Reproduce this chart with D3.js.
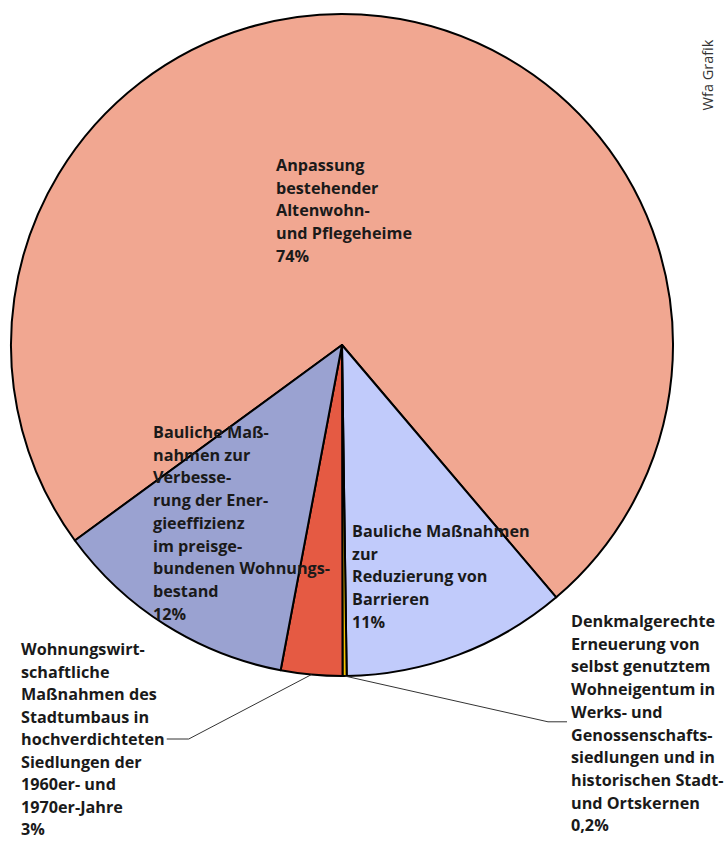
<!DOCTYPE html>
<html>
<head>
<meta charset="utf-8">
<script src="https://cdn.jsdelivr.net/npm/d3@7"></script>
<style>
  body { margin: 0; background: #fff; }
  svg { display: block; }
  .lbl { font-family: "Open Sans", sans-serif; font-weight: 700; font-size: 16.2px; fill: #1a1a1a; }
</style>
</head>
<body>
<svg id="chart" width="728" height="841"></svg>
<script>
// slice order, clockwise
let categories = ["Altenwohn- und Pflegeheime", "Barrieren", "Denkmal", "Stadtumbau", "Energieeffizienz"];
let shares = [74, 11, 0.2, 3, 12];
let colors = ["#f1a791", "#c1cbfb", "#f6c300", "#e55a43", "#9aa2d1"];
let labelLines = [
  ["Anpassung", "bestehender", "Altenwohn-", "und Pflegeheime", "74%"],
  ["Bauliche Maßnahmen", "zur", "Reduzierung von", "Barrieren", "11%"],
  ["Denkmalgerechte", "Erneuerung von", "selbst genutztem", "Wohneigentum in", "Werks- und", "Genossenschafts-", "siedlungen und in", "historischen Stadt-", "und Ortskernen", "0,2%"],
  ["Wohnungswirt-", "schaftliche", "Maßnahmen des", "Stadtumbaus in", "hochverdichteten", "Siedlungen der", "1960er- und", "1970er-Jahre", "3%"],
  ["Bauliche Maß-", "nahmen zur", "Verbesse-", "rung der Ener-", "gieeffizienz", "im preisge-", "bundenen Wohnungs-", "bestand", "12%"]
];

let svg = d3.select("#chart");
let cx = 342, cy = 345, radius = 331;
let lineH = 22.7;

// label anchor (left x, first baseline) and leader line row
let labelPos = [
  {x: 276, y: 171},
  {x: 352, y: 537},
  {x: 571, y: 627, leaderRow: 4, leaderDy: 4, side: "right"},
  {x: 21, y: 655, lh: 22.5, leaderRow: 4, leaderDy: -6, side: "left"},
  {x: 153, y: 438}
];

let startDeg = -126.2;
let pie = d3.pie().sort(null).value(d => d)
  .startAngle(startDeg * Math.PI / 180)
  .endAngle(startDeg * Math.PI / 180 + 2 * Math.PI);
let arcs = pie(shares);

let arc = d3.arc().innerRadius(0).outerRadius(radius);

let plot = svg.append("g").attr("transform", "translate(" + cx + "," + cy + ")");

plot.selectAll("path.slice")
  .data(arcs)
  .enter().append("path")
  .attr("class", "slice")
  .attr("d", arc)
  .attr("fill", (d, i) => colors[i])
  .attr("stroke", "#000")
  .attr("stroke-width", 2)
  .attr("stroke-linejoin", "round");

// leader lines for the two small slices
arcs.forEach(function(a, i) {
  let p = labelPos[i];
  if (p.leaderRow === undefined) return;
  let lh = p.lh || lineH;
  let mid = (a.startAngle + a.endAngle) / 2;
  let sx = cx + radius * Math.sin(mid);
  let sy = cy - radius * Math.cos(mid);
  let rowY = p.y + p.leaderRow * lh + p.leaderDy;
  let pts;
  if (p.side === "right") {
    pts = [[sx, sy], [p.x - 23, rowY], [p.x - 4, rowY]];
  } else {
    let tmp = svg.append("text").attr("class", "lbl").text(labelLines[i][p.leaderRow]);
    let w = tmp.node().getComputedTextLength();
    tmp.remove();
    pts = [[sx, sy], [p.x + w + 24, rowY], [p.x + w + 2, rowY]];
  }
  svg.append("path")
    .attr("d", d3.line()(pts))
    .attr("fill", "none")
    .attr("stroke", "#333")
    .attr("stroke-width", 1);
});

// labels
labelLines.forEach(function(lines, i) {
  let p = labelPos[i];
  let lh = p.lh || lineH;
  let t = svg.append("text").attr("class", "lbl");
  lines.forEach(function(s, j) {
    t.append("tspan").attr("x", p.x).attr("y", p.y + j * lh).text(s);
  });
});

svg.append("text")
  .attr("transform", "translate(713,75) rotate(-90)")
  .attr("text-anchor", "middle")
  .attr("font-family", "'Open Sans', sans-serif")
  .attr("font-size", 14.5)
  .attr("fill", "#333")
  .text("Wfa Grafik");
</script>
</body>
</html>
